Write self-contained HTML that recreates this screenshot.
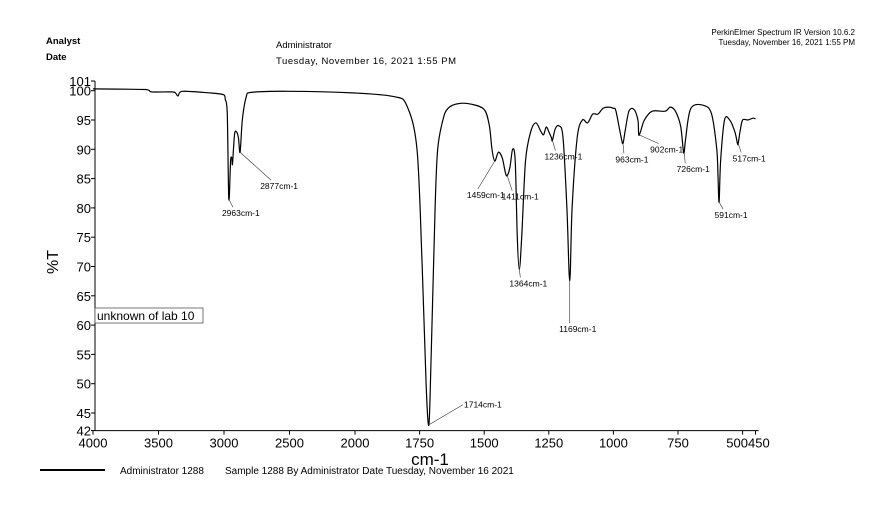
<!DOCTYPE html>
<html><head><meta charset="utf-8"><style>
body{margin:0;background:#fff;}
svg{display:block;font-family:"Liberation Sans",sans-serif;}
</style></head><body>
<svg id="chart" width="888" height="509" viewBox="0 0 888 509">
<rect width="888" height="509" fill="#fff"/>
<g font-size="9.5">
 <text x="46" y="44" font-weight="bold">Analyst</text>
 <text x="46" y="60" font-weight="bold">Date</text>
 <text x="276" y="48">Administrator</text>
 <text x="276" y="64" textLength="180">Tuesday, November 16, 2021 1:55 PM</text>
 <text x="855" y="35" font-size="8" text-anchor="end">PerkinElmer Spectrum IR Version 10.6.2</text>
 <text x="855" y="45" font-size="8" text-anchor="end">Tuesday, November 16, 2021 1:55 PM</text>
</g>
<g id="axes"></g>
<g id="plot"></g>
<g>
 <rect x="95" y="308" width="108" height="15" fill="#fff" stroke="#555" stroke-width="0.8"/>
 <text x="97" y="320" font-size="12">unknown of lab 10</text>
</g>
<text x="0" y="0" font-size="16" transform="translate(58,262) rotate(-90)" text-anchor="middle">%T</text>
<text x="430" y="465" font-size="17" text-anchor="middle">cm-1</text>
<g>
 <line x1="40" y1="470" x2="105" y2="470" stroke="#000" stroke-width="2"/>
 <text x="120" y="474" font-size="10">Administrator 1288</text>
 <text x="225" y="474" font-size="10">Sample 1288 By Administrator Date Tuesday, November 16 2021</text>
</g>
</svg>
<script>
const wavenumbers=[4000,3600,3550,3400,3370,3351,3320,3100,3000,2990,2975,2963,2950,2940,2935,2920,2905,2890,2877,2860,2830,2800,2500,2000,1850,1800,1760,1740,1725,1714,1705,1690,1680,1660,1640,1600,1550,1500,1480,1470,1459,1445,1430,1418,1411,1400,1390,1380,1372,1364,1355,1340,1320,1300,1280,1270,1260,1250,1240,1236,1225,1210,1195,1180,1169,1160,1140,1120,1100,1080,1060,1040,1020,1000,990,970,963,955,940,920,905,902,895,880,850,800,780,760,740,730,726,720,700,650,620,600,595,591,585,570,550,530,520,517,510,500,480,460,450];
const transmittance=[100.3,100.2,99.8,99.8,99.6,99.1,99.9,99.6,99.3,98.5,96,81.5,88,88.5,87.5,92.5,93,92,89.5,95,99,99.7,99.9,99.6,99.0,97.5,90,70,50,43,55,80,90,95,97,97.8,97.7,96.8,94,90,88,89.5,88.5,86,85.5,87,90,88,75,69.5,75,88,93,94.5,93,92.5,93.8,93,92,91.5,93.5,94,92,80,67.5,80,92,95,94.5,96,96,97,97.2,97,96.5,92,91,93,96.5,96.8,95,92.5,93,95,96.5,96.5,97.2,96.5,94,90,89.5,92,97,97.5,96,90,85,81,88,95,95,93,91,91,93,95,95,95.3,95.2];
const yTicks=[100,95,90,85,80,75,70,65,60,55,50,45,42];
const xTicks=[4000,3500,3000,2500,2000,1750,1500,1250,1000,750,500,450];
const xTickLabels=["4000","3500","3000","2500","2000","1750","1500","1250","1000","750","500","450"];
const peakWn=[2963,2877,1714,1459,1411,1364,1236,1169,963,902,726,591,517];
const peakT=[81.5,89.5,43,88,85.5,69.5,91.5,67.5,91,92.5,89.5,81,91];
const peakLabels=["2963cm-1","2877cm-1","1714cm-1","1459cm-1","1411cm-1","1364cm-1","1236cm-1","1169cm-1","963cm-1","902cm-1","726cm-1","591cm-1","517cm-1"];
const labelDx=[12,39,54,-9,13,9,11,8,9,28,9,12,11];
const labelDy=[17,37,-17,37,24,17,19,51,19,18,20,16,18];

const NS="http://www.w3.org/2000/svg";
function X(w){ return w>=2000 ? 93+(4000-w)/500*65.5 : 355+(2000-w)/250*64.6; }
function Y(v){ return 90.7+(100-v)*5.86; }
function mk(tag,attrs,parent){const e=document.createElementNS(NS,tag);for(const k in attrs)e.setAttribute(k,attrs[k]);parent.appendChild(e);return e;}
const axes=document.getElementById('axes'), plot=document.getElementById('plot');
const xa=mk('line',{x1:95,y1:Y(42),x2:X(450)+3,y2:Y(42),stroke:'#000','stroke-width':1},axes);


const ya=mk('line',{x1:95,y1:Y(42),x2:95,y2:81,stroke:'#000','stroke-width':1},axes);


function yTick(yy,txt){
 const t=mk('line',{x1:91,y1:yy,x2:95,y2:yy,stroke:'#000'},axes);
 
 
 const l=mk('text',{x:91,y:yy+5,'font-size':13,'text-anchor':'end'},axes);
 
 
 l.textContent=txt;
}
yTick(81,'101');
yTicks.forEach(v=>yTick(Y(v),v));
xTicks.forEach((w,i)=>{
 const t=mk('line',{x1:X(w),y1:Y(42),x2:X(w),y2:Y(42)+4,stroke:'#000'},axes);
 
 
 let anchor='middle', xx=X(w);
 if(w===500){anchor='end';xx=748;} else if(w===450){anchor='start';xx=748;}
 const l=mk('text',{x:xx,y:Y(42)+17,'font-size':13,'text-anchor':anchor},axes);
 
 
 l.textContent=xTickLabels[i];
});
const pts=wavenumbers.map((w,i)=>[X(w),Y(transmittance[i])]);
let d='M'+pts[0][0].toFixed(1)+','+pts[0][1].toFixed(1);
for(let i=0;i<pts.length-1;i++){
 const p0=pts[Math.max(0,i-1)],p1=pts[i],p2=pts[i+1],p3=pts[Math.min(pts.length-1,i+2)];
 const t=0.16;
 let c1x=p1[0]+(p2[0]-p0[0])*t, c1y=p1[1]+(p2[1]-p0[1])*t;
 let c2x=p2[0]-(p3[0]-p1[0])*t, c2y=p2[1]-(p3[1]-p1[1])*t;
 c1x=Math.min(Math.max(c1x,p1[0]),p2[0]); c2x=Math.min(Math.max(c2x,p1[0]),p2[0]);
 d+='C'+c1x.toFixed(1)+','+c1y.toFixed(1)+' '+c2x.toFixed(1)+','+c2y.toFixed(1)+' '+p2[0].toFixed(1)+','+p2[1].toFixed(1);
}
const p=mk('path',{d:d,fill:'none',stroke:'#000','stroke-width':1.2,'stroke-linejoin':'round'},plot);


peakWn.forEach((w,i)=>{
 const px=X(w), py=Y(peakT[i]);
 const lx=px+labelDx[i], ly=py+labelDy[i];
 const ex = labelDy[i]<0 ? lx-20 : lx-8;
 const ey = labelDy[i]<0 ? ly-3 : ly-9;
 const ln=mk('line',{x1:px,y1:py,x2:ex,y2:ey,stroke:'#333','stroke-width':0.6},plot);
 
 
 const tx=mk('text',{x:lx,y:ly,'font-size':8.5,'text-anchor':'middle'},plot);
 
 
 tx.textContent=peakLabels[i];
});
</script>
</body></html>
